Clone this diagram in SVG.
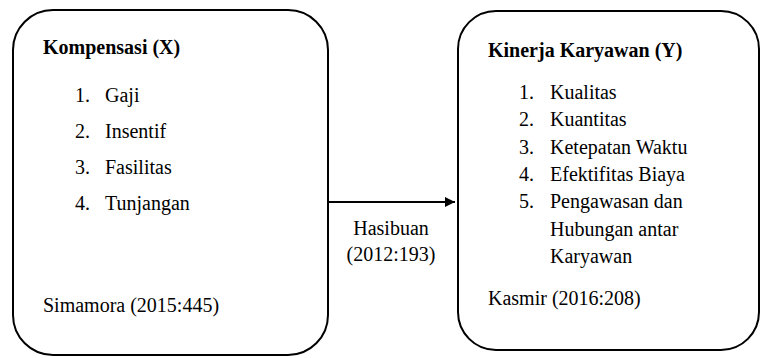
<svg xmlns="http://www.w3.org/2000/svg" width="761" height="358" viewBox="0 0 761 358">
<defs>
<marker id="arr" viewBox="0 0 10 10" refX="10" refY="5" markerWidth="5" markerHeight="5" orient="auto" markerUnits="strokeWidth">
<path d="M0,0 L10,5 L0,10 z" fill="#000"/>
</marker>
</defs>
<rect width="761" height="358" fill="#fff"/>
<g id="node-kompensasi">
<rect x="13" y="10" width="315" height="345" rx="40" ry="40" fill="#fff" stroke="#000" stroke-width="2"/>
<text x="43" y="54" font-family="Times New Roman" font-size="20" font-weight="bold">Kompensasi (X)</text>
<text x="75" y="102" font-family="Times New Roman" font-size="20">1.</text>
<text x="105" y="102" font-family="Times New Roman" font-size="20">Gaji</text>
<text x="75" y="138" font-family="Times New Roman" font-size="20">2.</text>
<text x="105" y="138" font-family="Times New Roman" font-size="20">Insentif</text>
<text x="75" y="174" font-family="Times New Roman" font-size="20">3.</text>
<text x="105" y="174" font-family="Times New Roman" font-size="20">Fasilitas</text>
<text x="75" y="210" font-family="Times New Roman" font-size="20">4.</text>
<text x="105" y="210" font-family="Times New Roman" font-size="20">Tunjangan</text>
<text x="43" y="312" font-family="Times New Roman" font-size="20">Simamora (2015:445)</text>
</g>
<g id="node-kinerja">
<rect x="458" y="11" width="301" height="339" rx="38" ry="38" fill="#fff" stroke="#000" stroke-width="2"/>
<text x="488" y="57" font-family="Times New Roman" font-size="20" font-weight="bold">Kinerja Karyawan (Y)</text>
<text x="519" y="99" font-family="Times New Roman" font-size="20">1.</text>
<text x="550" y="99" font-family="Times New Roman" font-size="20">Kualitas</text>
<text x="519" y="126" font-family="Times New Roman" font-size="20">2.</text>
<text x="550" y="126" font-family="Times New Roman" font-size="20">Kuantitas</text>
<text x="519" y="154" font-family="Times New Roman" font-size="20">3.</text>
<text x="550" y="154" font-family="Times New Roman" font-size="20">Ketepatan Waktu</text>
<text x="519" y="181" font-family="Times New Roman" font-size="20">4.</text>
<text x="550" y="181" font-family="Times New Roman" font-size="20">Efektifitas Biaya</text>
<text x="519" y="208" font-family="Times New Roman" font-size="20">5.</text>
<text x="550" y="208" font-family="Times New Roman" font-size="20">Pengawasan dan</text>
<text x="550" y="236" font-family="Times New Roman" font-size="20">Hubungan antar</text>
<text x="550" y="263" font-family="Times New Roman" font-size="20">Karyawan</text>
<text x="488" y="305" font-family="Times New Roman" font-size="20">Kasmir (2016:208)</text>
</g>
<g id="connectors">
<line x1="328" y1="202" x2="455" y2="202" stroke="#000" stroke-width="2" marker-end="url(#arr)"/>
<text x="391" y="235" font-family="Times New Roman" font-size="20" text-anchor="middle">Hasibuan</text>
<text x="391" y="261" font-family="Times New Roman" font-size="20" text-anchor="middle">(2012:193)</text>
</g>
</svg>
